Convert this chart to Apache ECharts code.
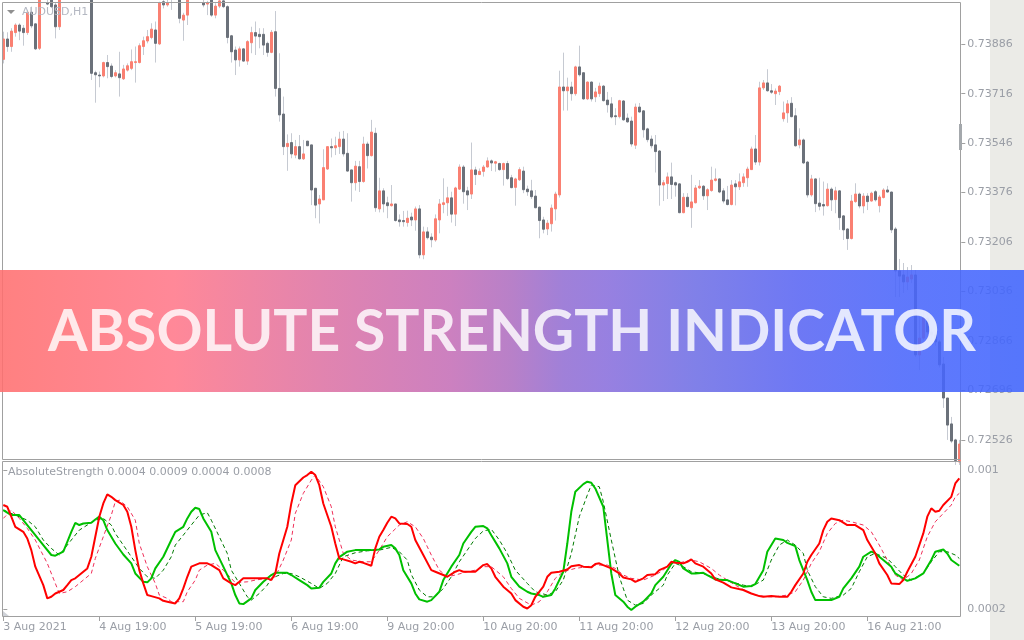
<!DOCTYPE html>
<html><head><meta charset="utf-8">
<script src="https://cdn.jsdelivr.net/npm/echarts@6.0.0/dist/echarts.min.js"></script>
<style>html,body{margin:0;padding:0;background:#fff}#c{width:1024px;height:640px}</style>
</head><body><div id="c"></div>
<script>
// AUDUSD H1 candles (prices)
const open = [0.73834,0.73904,0.73878,0.73926,0.73952,0.73941,0.73926,0.73996,0.73956,0.73872,
0.74050,0.74029,0.74040,0.74021,0.73946,0.74045,0.74090,0.74120,0.74100,0.74130,
0.74110,0.74120,0.74090,0.73788,0.73780,0.73777,0.73823,0.73811,0.73777,0.73784,
0.73767,0.73797,0.73803,0.73823,0.73823,0.73878,0.73897,0.73909,0.73935,0.73887,
0.74032,0.74021,0.74050,0.74060,0.74070,0.73969,0.73986,0.74045,0.74070,0.74060,
0.74029,0.74024,0.74040,0.73986,0.74017,0.74035,0.74015,0.73915,0.73866,0.73832,
0.73870,0.73828,0.73891,0.73926,0.73920,0.73920,0.73889,0.73858,0.73929,0.73734,
0.73646,0.73534,0.73548,0.73505,0.73534,0.73492,0.73553,0.73540,0.73391,0.73337,
0.73351,0.73457,0.73534,0.73530,0.73534,0.73560,0.73511,0.73454,0.73410,0.73465,
0.73414,0.73543,0.73503,0.73580,0.73320,0.73382,0.73341,0.73331,0.73337,0.73282,
0.73280,0.73273,0.73292,0.73282,0.73320,0.73162,0.73241,0.73223,0.73213,0.73282,
0.73335,0.73341,0.73358,0.73302,0.73388,0.73464,0.73382,0.73371,0.73454,0.73438,
0.73449,0.73464,0.73485,0.73477,0.73476,0.73455,0.73476,0.73427,0.73394,0.73420,
0.73450,0.73388,0.73382,0.73364,0.73326,0.73282,0.73251,0.73269,0.73320,0.73368,
0.73739,0.73726,0.73739,0.73716,0.73808,0.73788,0.73698,0.73756,0.73705,0.73716,
0.73742,0.73694,0.73681,0.73640,0.73637,0.73691,0.73632,0.73622,0.73539,0.73670,
0.73657,0.73595,0.73560,0.73540,0.73519,0.73402,0.73407,0.73430,0.73410,0.73406,
0.73307,0.73360,0.73324,0.73341,0.73392,0.73398,0.73365,0.73383,0.73418,0.73423,
0.73382,0.73351,0.73335,0.73406,0.73396,0.73410,0.73427,0.73455,0.73526,0.73481,
0.73736,0.73753,0.73726,0.73716,0.73723,0.73630,0.73650,0.73683,0.73640,0.73540,
0.73557,0.73481,0.73368,0.73423,0.73340,0.73335,0.73331,0.73388,0.73352,0.73382,
0.73296,0.73251,0.73218,0.73345,0.73371,0.73330,0.73364,0.73347,0.73379,0.73331,
0.73359,0.73385,0.73378,0.73251,0.73107,0.73093,0.73069,0.73079,0.73093,0.72818,
0.72876,0.72945,0.72897,0.72887,0.72863,0.72787,0.72670,0.72581,0.72526,0.72450];
const high = [0.73929,0.73927,0.73941,0.73958,0.73958,0.73952,0.74004,0.74015,0.73958,0.74060,
0.74075,0.74040,0.74050,0.74029,0.74060,0.74100,0.74130,0.74140,0.74145,0.74140,
0.74130,0.74125,0.74095,0.73795,0.73792,0.73826,0.73849,0.73820,0.73797,0.73860,
0.73815,0.73820,0.73868,0.73878,0.73889,0.73912,0.73935,0.73958,0.73964,0.74032,
0.74045,0.74040,0.74070,0.74080,0.74075,0.73994,0.74055,0.74080,0.74085,0.74070,
0.74040,0.74035,0.74045,0.74027,0.74045,0.74045,0.74020,0.73918,0.73878,0.73878,
0.73872,0.73900,0.73946,0.73964,0.73941,0.73941,0.73895,0.73935,0.74000,0.73855,
0.73706,0.73576,0.73580,0.73557,0.73574,0.73557,0.73553,0.73540,0.73391,0.73368,
0.73525,0.73534,0.73562,0.73568,0.73585,0.73588,0.73580,0.73454,0.73485,0.73485,
0.73568,0.73551,0.73626,0.73599,0.73427,0.73391,0.73362,0.73402,0.73337,0.73301,
0.73313,0.73314,0.73307,0.73328,0.73333,0.73259,0.73257,0.73236,0.73301,0.73354,
0.73425,0.73396,0.73379,0.73396,0.73473,0.73471,0.73396,0.73548,0.73465,0.73459,
0.73471,0.73497,0.73490,0.73485,0.73479,0.73479,0.73485,0.73437,0.73427,0.73463,
0.73465,0.73400,0.73420,0.73385,0.73328,0.73293,0.73282,0.73335,0.73379,0.73795,
0.73857,0.73771,0.73757,0.73812,0.73881,0.73788,0.73758,0.73758,0.73736,0.73754,
0.73746,0.73722,0.73704,0.73666,0.73695,0.73694,0.73648,0.73637,0.73682,0.73684,
0.73660,0.73599,0.73572,0.73574,0.73522,0.73419,0.73445,0.73479,0.73414,0.73408,
0.73374,0.73374,0.73437,0.73402,0.73419,0.73402,0.73391,0.73465,0.73459,0.73425,
0.73391,0.73399,0.73419,0.73419,0.73442,0.73442,0.73465,0.73534,0.73574,0.73757,
0.73763,0.73800,0.73749,0.73734,0.73746,0.73689,0.73694,0.73704,0.73666,0.73597,
0.73562,0.73485,0.73437,0.73425,0.73427,0.73414,0.73408,0.73394,0.73396,0.73385,
0.73299,0.73253,0.73368,0.73408,0.73376,0.73374,0.73374,0.73379,0.73385,0.73368,
0.73391,0.73399,0.73379,0.73258,0.73148,0.73134,0.73120,0.73127,0.73110,0.72949,
0.72966,0.72960,0.72910,0.72895,0.72870,0.72811,0.72670,0.72605,0.72530,0.72526];
const low = [0.73820,0.73860,0.73860,0.73912,0.73900,0.73881,0.73918,0.73941,0.73866,0.73866,
0.74040,0.74020,0.74010,0.73906,0.73935,0.74040,0.74080,0.74090,0.74095,0.74100,
0.74095,0.74080,0.73763,0.73685,0.73738,0.73772,0.73769,0.73769,0.73772,0.73706,
0.73763,0.73792,0.73797,0.73754,0.73820,0.73849,0.73889,0.73903,0.73823,0.73883,
0.74009,0.74015,0.74004,0.74045,0.73958,0.73898,0.73952,0.74040,0.74050,0.74036,
0.74013,0.73986,0.73980,0.73975,0.74010,0.74010,0.73889,0.73823,0.73780,0.73809,
0.73826,0.73815,0.73855,0.73849,0.73872,0.73849,0.73843,0.73855,0.73706,0.73620,
0.73505,0.73451,0.73494,0.73494,0.73490,0.73488,0.73537,0.73333,0.73288,0.73270,
0.73351,0.73454,0.73497,0.73505,0.73509,0.73500,0.73448,0.73345,0.73383,0.73378,
0.73410,0.73459,0.73500,0.73310,0.73308,0.73308,0.73288,0.73328,0.73276,0.73259,
0.73259,0.73259,0.73261,0.73245,0.73150,0.73147,0.73215,0.73188,0.73207,0.73236,
0.73305,0.73296,0.73273,0.73261,0.73385,0.73338,0.73316,0.73354,0.73402,0.73437,
0.73431,0.73462,0.73450,0.73448,0.73451,0.73400,0.73419,0.73391,0.73331,0.73416,
0.73374,0.73365,0.73354,0.73322,0.73219,0.73236,0.73230,0.73242,0.73280,0.73359,
0.73658,0.73658,0.73692,0.73709,0.73775,0.73695,0.73694,0.73689,0.73687,0.73705,
0.73689,0.73651,0.73631,0.73608,0.73631,0.73623,0.73616,0.73534,0.73526,0.73651,
0.73565,0.73549,0.73528,0.73445,0.73331,0.73347,0.73354,0.73354,0.73362,0.73305,
0.73305,0.73325,0.73255,0.73339,0.73388,0.73351,0.73316,0.73379,0.73414,0.73374,
0.73339,0.73332,0.73332,0.73332,0.73385,0.73396,0.73396,0.73454,0.73471,0.73469,
0.73729,0.73723,0.73715,0.73677,0.73711,0.73620,0.73616,0.73635,0.73534,0.73528,
0.73474,0.73359,0.73362,0.73309,0.73315,0.73297,0.73328,0.73313,0.73305,0.73248,
0.73213,0.73179,0.73215,0.73341,0.73322,0.73305,0.73316,0.73345,0.73345,0.73308,
0.73356,0.73376,0.73237,0.73017,0.73017,0.73031,0.73041,0.73065,0.72811,0.72766,
0.72870,0.72885,0.72875,0.72850,0.72775,0.72636,0.72526,0.72515,0.72440,0.72440];
const close = [0.73904,0.73878,0.73931,0.73952,0.73931,0.73926,0.73996,0.73949,0.73870,0.74050,
0.74060,0.74024,0.74015,0.73946,0.74045,0.74090,0.74120,0.74100,0.74130,0.74110,
0.74120,0.74090,0.73786,0.73781,0.73777,0.73823,0.73809,0.73775,0.73788,0.73771,
0.73801,0.73812,0.73826,0.73826,0.73881,0.73898,0.73912,0.73938,0.73889,0.74029,
0.74021,0.74029,0.74060,0.74070,0.73975,0.73986,0.74045,0.74070,0.74060,0.74045,
0.74021,0.74029,0.73986,0.74017,0.74035,0.74015,0.73909,0.73860,0.73832,0.73870,
0.73828,0.73895,0.73926,0.73914,0.73912,0.73883,0.73858,0.73927,0.73734,0.73643,
0.73534,0.73545,0.73509,0.73534,0.73492,0.73509,0.73537,0.73385,0.73333,0.73354,
0.73462,0.73534,0.73530,0.73537,0.73560,0.73509,0.73450,0.73410,0.73467,0.73414,
0.73543,0.73503,0.73584,0.73324,0.73382,0.73337,0.73331,0.73337,0.73280,0.73276,
0.73276,0.73288,0.73282,0.73320,0.73162,0.73241,0.73221,0.73214,0.73286,0.73337,
0.73341,0.73358,0.73302,0.73392,0.73464,0.73379,0.73368,0.73454,0.73438,0.73449,
0.73464,0.73485,0.73478,0.73482,0.73455,0.73476,0.73424,0.73393,0.73423,0.73455,
0.73386,0.73379,0.73362,0.73324,0.73280,0.73250,0.73271,0.73323,0.73371,0.73739,
0.73726,0.73739,0.73716,0.73808,0.73781,0.73698,0.73756,0.73698,0.73722,0.73742,
0.73692,0.73678,0.73636,0.73637,0.73692,0.73626,0.73619,0.73543,0.73670,0.73653,
0.73592,0.73558,0.73537,0.73517,0.73402,0.73410,0.73430,0.73404,0.73402,0.73307,
0.73360,0.73328,0.73344,0.73392,0.73398,0.73365,0.73386,0.73419,0.73423,0.73378,
0.73347,0.73335,0.73402,0.73396,0.73413,0.73430,0.73457,0.73526,0.73481,0.73736,
0.73753,0.73726,0.73721,0.73725,0.73742,0.73650,0.73681,0.73637,0.73537,0.73557,
0.73478,0.73368,0.73423,0.73338,0.73329,0.73330,0.73388,0.73351,0.73382,0.73290,
0.73248,0.73218,0.73347,0.73371,0.73330,0.73364,0.73345,0.73374,0.73351,0.73361,
0.73385,0.73378,0.73248,0.73107,0.73089,0.73069,0.73086,0.73093,0.72818,0.72876,
0.72945,0.72897,0.72887,0.72863,0.72784,0.72670,0.72577,0.72522,0.72455,0.72512];

// Absolute Strength indicator: [bar index, value]
const bulls = [[0,770e-6],[2,741e-6],[4,741e-6],[8,626e-6],[10,569e-6],[12,512e-6],[13,508e-6],[15,531e-6],[16,588e-6],[17,645e-6],[18,697e-6],[19,684e-6],[20,693e-6],[22,697e-6],[23,716e-6],[24,732e-6],[25,712e-6],[26,655e-6],[28,578e-6],[30,515e-6],[32,464e-6],[33,406e-6],[35,358e-6],[36,355e-6],[37,378e-6],[38,435e-6],[40,502e-6],[42,598e-6],[43,645e-6],[45,674e-6],[46,722e-6],[47,760e-6],[48,783e-6],[49,776e-6],[50,722e-6],[52,645e-6],[53,540e-6],[55,445e-6],[57,349e-6],[58,282e-6],[59,234e-6],[60,230e-6],[62,263e-6],[63,311e-6],[65,358e-6],[67,397e-6],[68,410e-6],[69,410e-6],[71,410e-6],[72,397e-6],[74,368e-6],[76,339e-6],[77,320e-6],[79,324e-6],[80,358e-6],[82,406e-6],[83,464e-6],[84,500e-6],[86,531e-6],[88,540e-6],[90,540e-6],[92,540e-6],[94,544e-6],[95,559e-6],[97,569e-6],[98,550e-6],[99,512e-6],[100,425e-6],[102,349e-6],[103,291e-6],[104,257e-6],[106,244e-6],[107,253e-6],[109,301e-6],[110,368e-6],[112,445e-6],[114,512e-6],[115,578e-6],[117,645e-6],[118,674e-6],[120,678e-6],[121,665e-6],[122,626e-6],[124,550e-6],[126,464e-6],[127,387e-6],[129,330e-6],[131,301e-6],[132,291e-6],[134,282e-6],[135,272e-6],[137,282e-6],[138,320e-6],[140,416e-6],[141,578e-6],[142,760e-6],[143,875e-6],[145,919e-6],[146,933e-6],[147,927e-6],[148,894e-6],[150,789e-6],[151,598e-6],[152,406e-6],[153,282e-6],[155,244e-6],[156,215e-6],[157,196e-6],[158,215e-6],[160,244e-6],[162,291e-6],[163,339e-6],[165,387e-6],[167,460e-6],[168,483e-6],[169,473e-6],[170,435e-6],[172,406e-6],[173,406e-6],[175,410e-6],[176,397e-6],[178,372e-6],[180,368e-6],[181,368e-6],[183,349e-6],[185,330e-6],[187,334e-6],[188,345e-6],[190,425e-6],[191,531e-6],[193,607e-6],[195,598e-6],[196,582e-6],[198,563e-6],[199,483e-6],[201,368e-6],[202,301e-6],[203,253e-6],[205,253e-6],[207,253e-6],[209,272e-6],[210,320e-6],[212,378e-6],[214,445e-6],[215,502e-6],[217,531e-6],[218,521e-6],[220,483e-6],[222,445e-6],[223,406e-6],[225,378e-6],[226,364e-6],[228,378e-6],[230,406e-6],[232,483e-6],[233,531e-6],[235,544e-6],[236,521e-6],[237,483e-6],[239,450e-6]];
const bears = [[0,799e-6],[1,789e-6],[2,732e-6],[3,674e-6],[5,645e-6],[6,607e-6],[7,540e-6],[8,445e-6],[10,339e-6],[11,263e-6],[12,272e-6],[13,291e-6],[15,311e-6],[16,339e-6],[17,368e-6],[18,378e-6],[20,416e-6],[21,435e-6],[22,502e-6],[23,617e-6],[24,732e-6],[25,808e-6],[26,860e-6],[27,846e-6],[28,827e-6],[30,799e-6],[31,760e-6],[32,674e-6],[33,540e-6],[34,425e-6],[35,349e-6],[36,282e-6],[37,276e-6],[39,263e-6],[40,249e-6],[41,244e-6],[43,234e-6],[44,263e-6],[45,320e-6],[46,387e-6],[47,445e-6],[49,464e-6],[50,464e-6],[51,464e-6],[52,454e-6],[54,425e-6],[55,378e-6],[57,349e-6],[58,339e-6],[59,358e-6],[60,378e-6],[62,378e-6],[65,378e-6],[66,378e-6],[67,368e-6],[68,406e-6],[69,521e-6],[71,674e-6],[72,808e-6],[73,913e-6],[75,957e-6],[76,971e-6],[77,990e-6],[78,971e-6],[79,913e-6],[80,808e-6],[82,674e-6],[83,578e-6],[84,492e-6],[85,487e-6],[87,473e-6],[88,464e-6],[89,473e-6],[90,467e-6],[92,450e-6],[93,550e-6],[94,617e-6],[95,655e-6],[96,697e-6],[97,732e-6],[98,722e-6],[99,693e-6],[101,690e-6],[102,674e-6],[103,598e-6],[105,512e-6],[107,425e-6],[108,416e-6],[110,397e-6],[111,387e-6],[113,416e-6],[114,425e-6],[115,416e-6],[117,416e-6],[118,416e-6],[120,454e-6],[121,460e-6],[122,435e-6],[123,387e-6],[125,330e-6],[127,291e-6],[128,253e-6],[130,215e-6],[131,205e-6],[132,224e-6],[133,272e-6],[135,330e-6],[136,387e-6],[137,410e-6],[139,416e-6],[141,429e-6],[142,448e-6],[144,454e-6],[145,445e-6],[147,441e-6],[148,460e-6],[149,464e-6],[150,454e-6],[152,435e-6],[154,406e-6],[155,383e-6],[157,372e-6],[158,358e-6],[160,378e-6],[161,397e-6],[163,402e-6],[164,425e-6],[166,445e-6],[167,473e-6],[168,467e-6],[170,464e-6],[171,473e-6],[172,487e-6],[173,464e-6],[175,445e-6],[177,406e-6],[178,372e-6],[180,353e-6],[182,326e-6],[185,311e-6],[187,291e-6],[189,276e-6],[190,272e-6],[192,276e-6],[194,272e-6],[196,272e-6],[197,301e-6],[198,339e-6],[200,406e-6],[201,473e-6],[202,512e-6],[204,578e-6],[205,655e-6],[206,703e-6],[207,722e-6],[209,712e-6],[211,684e-6],[212,684e-6],[213,684e-6],[215,655e-6],[216,598e-6],[218,521e-6],[219,464e-6],[221,397e-6],[222,349e-6],[224,345e-6],[225,368e-6],[226,416e-6],[228,502e-6],[230,636e-6],[231,732e-6],[232,780e-6],[233,760e-6],[234,766e-6],[235,799e-6],[237,846e-6],[238,923e-6],[239,952e-6]];
const bullsSignal = [[0,770e-6],[3,741e-6],[6,712e-6],[8,674e-6],[10,598e-6],[12,550e-6],[14,512e-6],[15,540e-6],[17,598e-6],[19,655e-6],[21,684e-6],[23,712e-6],[25,722e-6],[27,684e-6],[28,636e-6],[30,569e-6],[32,502e-6],[34,435e-6],[36,387e-6],[38,378e-6],[40,425e-6],[42,502e-6],[43,569e-6],[45,626e-6],[47,684e-6],[49,741e-6],[51,755e-6],[52,712e-6],[54,617e-6],[56,521e-6],[57,425e-6],[59,349e-6],[61,272e-6],[62,253e-6],[64,291e-6],[66,339e-6],[67,378e-6],[70,406e-6],[72,406e-6],[74,387e-6],[77,349e-6],[79,320e-6],[81,349e-6],[83,406e-6],[85,502e-6],[88,525e-6],[91,536e-6],[94,540e-6],[97,556e-6],[99,531e-6],[101,483e-6],[102,400e-6],[104,311e-6],[106,272e-6],[108,272e-6],[110,320e-6],[112,387e-6],[114,473e-6],[116,540e-6],[118,607e-6],[120,650e-6],[122,660e-6],[124,598e-6],[126,521e-6],[128,425e-6],[131,349e-6],[133,301e-6],[136,282e-6],[138,301e-6],[140,368e-6],[142,521e-6],[144,732e-6],[146,856e-6],[147,914e-6],[149,904e-6],[150,818e-6],[152,598e-6],[154,387e-6],[156,253e-6],[158,224e-6],[160,234e-6],[162,282e-6],[165,339e-6],[166,397e-6],[168,464e-6],[170,445e-6],[172,416e-6],[175,406e-6],[177,387e-6],[180,368e-6],[182,358e-6],[185,339e-6],[187,330e-6],[190,368e-6],[192,483e-6],[194,569e-6],[196,598e-6],[198,569e-6],[200,521e-6],[201,425e-6],[203,330e-6],[205,272e-6],[207,263e-6],[210,282e-6],[212,320e-6],[214,416e-6],[216,502e-6],[218,521e-6],[221,492e-6],[223,445e-6],[225,397e-6],[227,368e-6],[230,406e-6],[232,473e-6],[234,531e-6],[236,531e-6],[238,512e-6],[239,492e-6]];
const bearsSignal = [[0,722e-6],[2,770e-6],[4,722e-6],[6,665e-6],[8,598e-6],[11,464e-6],[13,349e-6],[14,291e-6],[16,301e-6],[18,330e-6],[20,368e-6],[22,406e-6],[23,492e-6],[25,617e-6],[27,741e-6],[28,818e-6],[29,827e-6],[31,789e-6],[33,712e-6],[34,578e-6],[36,445e-6],[38,349e-6],[39,282e-6],[41,263e-6],[42,244e-6],[45,244e-6],[46,301e-6],[48,368e-6],[49,425e-6],[51,454e-6],[53,464e-6],[55,425e-6],[57,378e-6],[58,353e-6],[61,358e-6],[63,368e-6],[66,378e-6],[68,387e-6],[70,483e-6],[72,598e-6],[73,751e-6],[75,866e-6],[77,942e-6],[78,971e-6],[80,904e-6],[82,789e-6],[83,674e-6],[85,521e-6],[87,483e-6],[90,473e-6],[92,473e-6],[94,540e-6],[96,617e-6],[99,684e-6],[101,703e-6],[103,674e-6],[105,607e-6],[107,512e-6],[109,425e-6],[111,387e-6],[113,397e-6],[116,416e-6],[118,425e-6],[120,445e-6],[122,445e-6],[125,387e-6],[127,320e-6],[129,263e-6],[132,224e-6],[134,244e-6],[136,301e-6],[138,378e-6],[140,416e-6],[143,435e-6],[146,445e-6],[148,454e-6],[151,454e-6],[153,435e-6],[155,397e-6],[157,378e-6],[160,368e-6],[163,397e-6],[165,425e-6],[167,473e-6],[169,467e-6],[172,483e-6],[174,473e-6],[177,435e-6],[179,397e-6],[181,368e-6],[183,339e-6],[186,301e-6],[188,282e-6],[191,272e-6],[193,272e-6],[196,282e-6],[198,301e-6],[200,368e-6],[202,464e-6],[204,531e-6],[206,636e-6],[208,693e-6],[210,712e-6],[212,703e-6],[215,684e-6],[217,645e-6],[219,569e-6],[221,483e-6],[223,397e-6],[225,368e-6],[227,406e-6],[229,483e-6],[231,617e-6],[233,703e-6],[235,751e-6],[237,799e-6],[238,846e-6],[239,866e-6]];

const priceTicks = [0.72526,0.72696,0.72866,0.73036,0.73206,0.73376,0.73546,0.73716,0.73886];
const strengthTicks = [0.0002, 0.001];
const timeLabels = ['3 Aug 2021','4 Aug 19:00','5 Aug 19:00','6 Aug 19:00','9 Aug 20:00','10 Aug 20:00','11 Aug 20:00','12 Aug 20:00','13 Aug 20:00','16 Aug 21:00'];
const timeLabelBars = [0,24,48,72,96,120,144,168,192,216];
const indicatorTitle = 'AbsoluteStrength 0.0004 0.0009 0.0004 0.0008';
const symbolTitle = 'AUDUSD,H1';
const bannerText = 'ABSOLUTE STRENGTH INDICATOR';

const bars = open.map((_, i) => String(i));
const ohlc = open.map((o, i) => [o, close[i], low[i], high[i]]);
const bodyData = open.map((o, i) => [o, close[i], Math.min(o, close[i]), Math.max(o, close[i])]);

const LBL = '#9a9ea6', AX = '#a0a0a0', FONT = 'DejaVu Sans', WICK = '#c6cad2';
const chart = echarts.init(document.getElementById('c'), null, {renderer: 'canvas'});
chart.setOption({
  animation: false,
  backgroundColor: '#ffffff',
  grid: [
    {left: 1.3, top: 2, width: 960, height: 457},
    {left: 1.3, top: 462, width: 960, height: 155}
  ],
  xAxis: [
    {type: 'category', gridIndex: 0, data: bars, boundaryGap: true, show: false},
    {type: 'value', gridIndex: 1, min: -0.5, max: bars.length - 0.5,
      splitLine: {show: false}, axisLine: {show: false},
      axisTick: {show: true, length: 4, lineStyle: {color: AX}, customValues: timeLabelBars},
      axisLabel: {customValues: timeLabelBars, formatter: v => timeLabels[timeLabelBars.indexOf(Math.round(v))],
        align: 'left', margin: 5, color: LBL, fontSize: 11, fontFamily: FONT}}
  ],
  yAxis: [
    {type: 'value', gridIndex: 0, position: 'right', min: 0.724604, max: 0.740311,
      splitLine: {show: false}, axisLine: {show: false},
      axisTick: {show: true, length: 4, lineStyle: {color: AX}, customValues: priceTicks},
      axisLabel: {customValues: priceTicks, formatter: v => v.toFixed(5), margin: 6, color: LBL, fontSize: 11, fontFamily: FONT}},
    {type: 'value', gridIndex: 1, position: 'right', min: 0.000156, max: 0.001046,
      splitLine: {show: false}, axisLine: {show: false},
      axisTick: {show: true, length: 4, lineStyle: {color: AX}, customValues: strengthTicks},
      axisLabel: {customValues: strengthTicks, formatter: v => String(v), margin: 6, color: LBL, fontSize: 11, fontFamily: FONT}}
  ],
  series: [
    {type: 'candlestick', name: 'wicks', xAxisIndex: 0, yAxisIndex: 0, data: ohlc, barWidth: 0, barMinWidth: 0, clip: true,
      itemStyle: {color: WICK, color0: WICK, borderWidth: 1, borderColor: WICK, borderColor0: WICK, borderColorDoji: WICK}},
    {type: 'candlestick', name: 'bodies', xAxisIndex: 0, yAxisIndex: 0, data: bodyData, barWidth: 2, clip: true,
      itemStyle: {color: '#fa8072', color0: '#6b717a', borderColor: '#fa8072', borderColor0: '#6b717a', borderColorDoji: '#6b717a', borderWidth: 1}},
    {type: 'line', name: 'bullsSignal', xAxisIndex: 1, yAxisIndex: 1, data: bullsSignal, showSymbol: false, clip: true,
      lineStyle: {color: '#007a00', width: 1, type: [4, 3]}},
    {type: 'line', name: 'bearsSignal', xAxisIndex: 1, yAxisIndex: 1, data: bearsSignal, showSymbol: false, clip: true,
      lineStyle: {color: '#f0305a', width: 1, type: [4, 3]}},
    {type: 'line', name: 'bulls', xAxisIndex: 1, yAxisIndex: 1, data: bulls, showSymbol: false, clip: true,
      lineStyle: {color: '#00c000', width: 2}},
    {type: 'line', name: 'bears', xAxisIndex: 1, yAxisIndex: 1, data: bears, showSymbol: false, clip: true,
      lineStyle: {color: '#ff0000', width: 2}}
  ],
  graphic: [
    {type: 'rect', z: -1, silent: true, shape: {x: 990, y: 0, width: 34, height: 640}, style: {fill: '#ebebe7'}},
    {type: 'rect', z: 10, silent: true, shape: {x: 2.5, y: 2.5, width: 958, height: 457}, style: {fill: 'none', stroke: AX, lineWidth: 1}},
    {type: 'rect', z: 10, silent: true, shape: {x: 2.5, y: 461.5, width: 958, height: 155}, style: {fill: 'none', stroke: AX, lineWidth: 1}},
    {type: 'rect', z: 10, silent: true, shape: {x: 959, y: 124, width: 3, height: 26}, style: {fill: '#a4a8ac'}},
    {type: 'polygon', z: 10, silent: true, shape: {points: [[3, 611], [9, 616], [3, 616]]}, style: {fill: '#cfd2d8'}},
    {type: 'polygon', z: 10, silent: true, shape: {points: [[7, 10], [15, 10], [11, 14]]}, style: {fill: '#909090'}},
    {type: 'text', z: 10, silent: true, x: 22, y: 12, style: {text: symbolTitle, fill: '#b4b8c2', fontSize: 11, fontFamily: FONT, verticalAlign: 'middle', align: 'left'}},
    {type: 'text', z: 10, silent: true, x: 8, y: 472, style: {text: indicatorTitle, fill: LBL, fontSize: 11, fontFamily: FONT, verticalAlign: 'middle', align: 'left'}},
    {type: 'rect', z: 100, silent: true, shape: {x: 0, y: 270, width: 1024, height: 122},
      style: {opacity: 0.88, fill: new echarts.graphic.LinearGradient(0, 0, 1, 0, [
        {offset: 0, color: '#ff6f6f'}, {offset: 0.17, color: '#ff788a'}, {offset: 0.32, color: '#dc73a5'},
        {offset: 0.44, color: '#c56fb7'}, {offset: 0.5, color: '#ae6fc1'}, {offset: 0.55, color: '#936fd3'},
        {offset: 0.59, color: '#8a6fdc'}, {offset: 0.68, color: '#6f6fe5'}, {offset: 0.78, color: '#5a66f3'},
        {offset: 0.88, color: '#4a66fb'}, {offset: 1, color: '#4166ff'}])}},
    {type: 'text', z: 101, silent: true, x: 512, y: 333, style: {text: bannerText, fill: 'rgba(255,255,255,0.82)',
      fontSize: 57, fontWeight: 'bold', fontFamily: 'Lato', align: 'center', verticalAlign: 'middle'}}
  ]
});
</script></body></html>
